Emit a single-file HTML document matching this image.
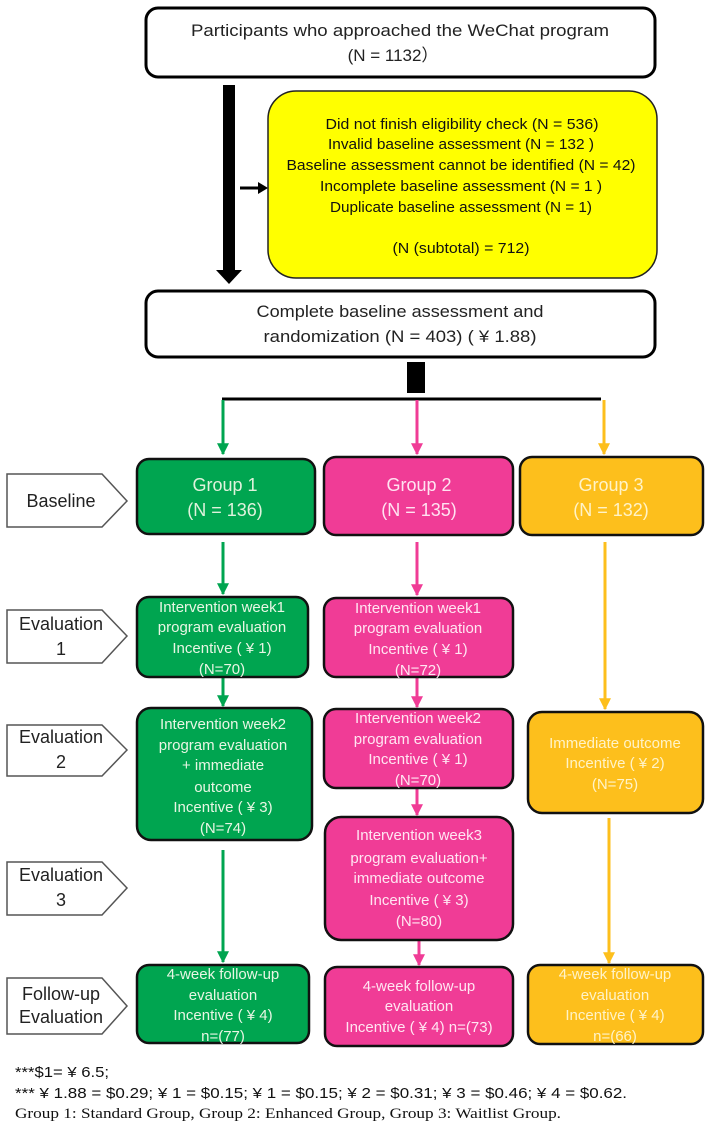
<!DOCTYPE html>
<html><head><meta charset="utf-8"><style>
html,body{margin:0;padding:0;background:#fff;}
svg{display:block;}
text{font-family:"Liberation Sans","Noto Sans CJK SC",sans-serif;}
</style></head><body>
<svg width="711" height="1126" viewBox="0 0 711 1126" xmlns="http://www.w3.org/2000/svg">
<defs>
<marker id="ag" viewBox="0 0 10 10" refX="9" refY="5" markerWidth="4" markerHeight="4" orient="auto"><path d="M0,0L10,5L0,10z" fill="#00a550"/></marker>
<marker id="ap" viewBox="0 0 10 10" refX="9" refY="5" markerWidth="4" markerHeight="4" orient="auto"><path d="M0,0L10,5L0,10z" fill="#f03c96"/></marker>
<marker id="ay" viewBox="0 0 10 10" refX="9" refY="5" markerWidth="4" markerHeight="4" orient="auto"><path d="M0,0L10,5L0,10z" fill="#fdbf1c"/></marker>
</defs>

<rect x="146" y="8" width="509" height="69" rx="12" fill="#fff" stroke="#000" stroke-width="3"/>
<g font-size="17" text-anchor="middle" fill="#222">
<text x="400" y="36" textLength="418" lengthAdjust="spacingAndGlyphs">Participants who approached the WeChat program</text>
<text x="393" y="61">(N = 1132）</text>
</g>

<rect x="223" y="85" width="12" height="186" fill="#000"/>
<polygon points="216,270 242,270 229,284" fill="#000"/>
<line x1="240" y1="188" x2="260" y2="188" stroke="#000" stroke-width="3"/>
<polygon points="258,182 268,188 258,194" fill="#000"/>

<rect x="268" y="91" width="389" height="187" rx="28" fill="#ffff00" stroke="#222" stroke-width="1.5"/>
<g font-size="15" text-anchor="middle" fill="#111">
<text x="462" y="129" textLength="273" lengthAdjust="spacingAndGlyphs">Did not  finish eligibility check (N = 536)</text>
<text x="461" y="149" textLength="266" lengthAdjust="spacingAndGlyphs">Invalid baseline assessment (N = 132 )</text>
<text x="461" y="170" textLength="349" lengthAdjust="spacingAndGlyphs">Baseline assessment cannot be identified (N = 42)</text>
<text x="461" y="191" textLength="282" lengthAdjust="spacingAndGlyphs">Incomplete  baseline assessment (N = 1 )</text>
<text x="461" y="212" textLength="262" lengthAdjust="spacingAndGlyphs">Duplicate baseline assessment (N = 1)</text>
<text x="461" y="253" textLength="137" lengthAdjust="spacingAndGlyphs">(N (subtotal) = 712)</text>
</g>

<rect x="146" y="291" width="509" height="66" rx="12" fill="#fff" stroke="#000" stroke-width="3"/>
<g font-size="17" text-anchor="middle" fill="#222">
<text x="400" y="317" textLength="287" lengthAdjust="spacingAndGlyphs">Complete baseline assessment and</text>
<text x="400" y="342" textLength="273" lengthAdjust="spacingAndGlyphs">randomization (N = 403) ( ¥ 1.88)</text>
</g>

<rect x="407" y="362" width="18" height="31" fill="#000"/>
<line x1="222" y1="399" x2="601" y2="399" stroke="#000" stroke-width="3"/>

<g stroke-width="3" fill="none">
<line x1="223" y1="400" x2="223" y2="454" stroke="#00a550" marker-end="url(#ag)"/>
<line x1="417" y1="400" x2="417" y2="454" stroke="#f03c96" marker-end="url(#ap)"/>
<line x1="604" y1="400" x2="604" y2="454" stroke="#fdbf1c" marker-end="url(#ay)"/>
<line x1="223" y1="542" x2="223" y2="594" stroke="#00a550" marker-end="url(#ag)"/>
<line x1="417" y1="542" x2="417" y2="595" stroke="#f03c96" marker-end="url(#ap)"/>
<line x1="605" y1="542" x2="605" y2="709" stroke="#fdbf1c" marker-end="url(#ay)"/>
<line x1="223" y1="678" x2="223" y2="706" stroke="#00a550" marker-end="url(#ag)"/>
<line x1="417" y1="678" x2="417" y2="707" stroke="#f03c96" marker-end="url(#ap)"/>
<line x1="417" y1="789" x2="417" y2="815" stroke="#f03c96" marker-end="url(#ap)"/>
<line x1="223" y1="850" x2="223" y2="962" stroke="#00a550" marker-end="url(#ag)"/>
<line x1="609" y1="818" x2="609" y2="963" stroke="#fdbf1c" marker-end="url(#ay)"/>
<line x1="419" y1="941" x2="419" y2="965" stroke="#f03c96" marker-end="url(#ap)"/>
</g>

<g fill="#fff" stroke="#555" stroke-width="1.5">
<polygon points="7,474 102,474 127,501 102,527 7,527"/>
<polygon points="7,610 102,610 127,636 102,663 7,663"/>
<polygon points="7,725 102,725 127,750 102,776 7,776"/>
<polygon points="7,862 102,862 127,888 102,915 7,915"/>
<polygon points="7,978 102,978 127,1006 102,1034 7,1034"/>
</g>
<g font-size="18" text-anchor="middle" fill="#222">
<text x="61" y="507">Baseline</text>
<text x="61" y="630">Evaluation</text><text x="61" y="655">1</text>
<text x="61" y="743">Evaluation</text><text x="61" y="768">2</text>
<text x="61" y="881">Evaluation</text><text x="61" y="906">3</text>
<text x="61" y="1000">Follow-up</text><text x="61" y="1023">Evaluation</text>
</g>

<g stroke="#111" stroke-width="2.5">
<rect x="137" y="459" width="178" height="75" rx="12" fill="#00a550"/>
<rect x="324" y="457" width="189" height="78" rx="12" fill="#f03c96"/>
<rect x="520" y="457" width="183" height="78" rx="12" fill="#fdbf1c"/>
<rect x="137" y="597" width="171" height="80" rx="12" fill="#00a550"/>
<rect x="324" y="598" width="189" height="79" rx="12" fill="#f03c96"/>
<rect x="137" y="708" width="175" height="132" rx="14" fill="#00a550"/>
<rect x="324" y="709" width="189" height="79" rx="12" fill="#f03c96"/>
<rect x="528" y="712" width="175" height="101" rx="14" fill="#fdbf1c"/>
<rect x="325" y="817" width="188" height="123" rx="16" fill="#f03c96"/>
<rect x="137" y="965" width="172" height="78" rx="12" fill="#00a550"/>
<rect x="325" y="967" width="188" height="79" rx="12" fill="#f03c96"/>
<rect x="528" y="965" width="175" height="79" rx="12" fill="#fdbf1c"/>
</g>

<g font-size="18" text-anchor="middle">
<g fill="#dff2dc"><text x="225" y="491">Group 1</text><text x="225" y="516">(N = 136)</text></g>
<g fill="#ffe3f1"><text x="419" y="491">Group 2</text><text x="419" y="516">(N = 135)</text></g>
<g fill="#fff3c8"><text x="611" y="491">Group 3</text><text x="611" y="516">(N = 132)</text></g>
</g>

<g font-size="15" text-anchor="middle">
<g fill="#e8f6e4">
<text x="222" y="612">Intervention week1</text>
<text x="222" y="632">program evaluation</text>
<text x="222" y="653">Incentive ( ¥ 1)</text>
<text x="222" y="674">(N=70)</text>
<text x="223" y="729">Intervention week2</text>
<text x="223" y="750">program evaluation</text>
<text x="223" y="770">+ immediate</text>
<text x="223" y="792">outcome</text>
<text x="223" y="812">Incentive ( ¥ 3)</text>
<text x="223" y="833">(N=74)</text>
<text x="223" y="979">4-week follow-up</text>
<text x="223" y="1000">evaluation</text>
<text x="223" y="1020">Incentive ( ¥ 4)</text>
<text x="223" y="1041">n=(77)</text>
</g>
<g fill="#ffe6f2">
<text x="418" y="613">Intervention week1</text>
<text x="418" y="633">program evaluation</text>
<text x="418" y="654">Incentive ( ¥ 1)</text>
<text x="418" y="675">(N=72)</text>
<text x="418" y="723">Intervention week2</text>
<text x="418" y="744">program evaluation</text>
<text x="418" y="764">Incentive ( ¥ 1)</text>
<text x="418" y="785">(N=70)</text>
<text x="419" y="840">Intervention week3</text>
<text x="419" y="863">program evaluation+</text>
<text x="419" y="883">immediate outcome</text>
<text x="419" y="905">Incentive ( ¥ 3)</text>
<text x="419" y="926">(N=80)</text>
<text x="419" y="991">4-week follow-up</text>
<text x="419" y="1011">evaluation</text>
<text x="419" y="1032">Incentive ( ¥ 4) n=(73)</text>
</g>
<g fill="#fff3c8">
<text x="615" y="748">Immediate outcome</text>
<text x="615" y="768">Incentive ( ¥ 2)</text>
<text x="615" y="789">(N=75)</text>
<text x="615" y="979">4-week follow-up</text>
<text x="615" y="1000">evaluation</text>
<text x="615" y="1020">Incentive ( ¥ 4)</text>
<text x="615" y="1041">n=(66)</text>
</g>
</g>

<g fill="#111">
<text x="15" y="1077" font-size="15" textLength="94" lengthAdjust="spacingAndGlyphs">***$1= ¥ 6.5;</text>
<text x="15" y="1098" font-size="15" textLength="612" lengthAdjust="spacingAndGlyphs">*** ¥ 1.88 =  $0.29;  ¥ 1 =  $0.15;  ¥ 1 =  $0.15;  ¥ 2 =  $0.31;  ¥ 3 =  $0.46;  ¥ 4 =  $0.62.</text>
<text x="15" y="1118" font-size="15" style="font-family:'Liberation Serif',serif" textLength="546" lengthAdjust="spacingAndGlyphs">Group 1: Standard Group, Group 2: Enhanced  Group, Group 3: Waitlist  Group.</text>
</g>
</svg>
</body></html>
